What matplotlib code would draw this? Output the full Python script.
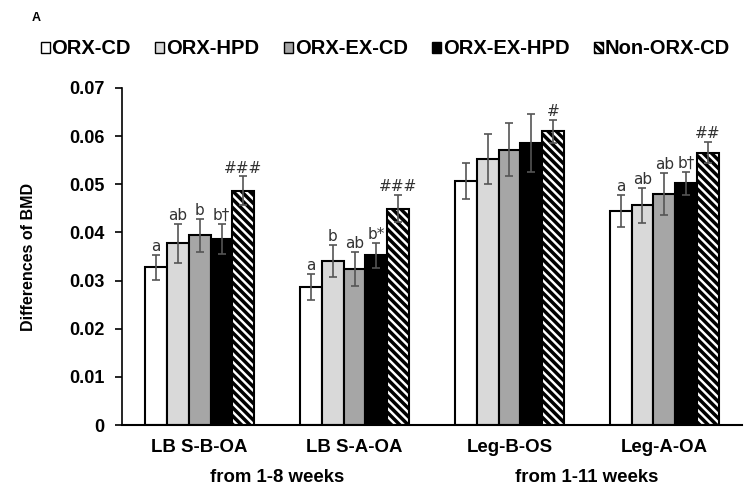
import numpy as np
import matplotlib.pyplot as plt
import matplotlib.transforms as mtransforms
from matplotlib.patches import Patch

plt.rcParams['font.family'] = ['Liberation Sans', 'DejaVu Sans']
plt.rcParams['hatch.linewidth'] = 2.5

# datos
categorias = ['LB S-B-OA', 'LB S-A-OA', 'Leg-B-OS', 'Leg-A-OA']
periodos = ['from 1-8 weeks', 'from 1-11 weeks']
grupos = ['ORX-CD', 'ORX-HPD', 'ORX-EX-CD', 'ORX-EX-HPD', 'Non-ORX-CD']

medias = np.array([
    [0.0328, 0.0286, 0.0506, 0.0444],   # ORX-CD
    [0.0377, 0.0340, 0.0552, 0.0456],   # ORX-HPD
    [0.0394, 0.0324, 0.0572, 0.0480],   # ORX-EX-CD
    [0.0386, 0.0352, 0.0586, 0.0502],   # ORX-EX-HPD
    [0.0486, 0.0449, 0.0610, 0.0565],   # Non-ORX-CD
])
errores = np.array([
    [0.0026, 0.0027, 0.0037, 0.0033],
    [0.0040, 0.0033, 0.0052, 0.0037],
    [0.0034, 0.0035, 0.0054, 0.0044],
    [0.0031, 0.0025, 0.0060, 0.0024],
    [0.0030, 0.0028, 0.0024, 0.0022],
])
letras = [
    ['a', 'a', '', 'a'],
    ['ab', 'b', '', 'ab'],
    ['b', 'ab', '', 'ab'],
    ['b\u2020', 'b*', '', 'b\u2020'],
    ['###', '###', '#', '##'],
]

colores = ['white', '#d9d9d9', '#a6a6a6', 'black', 'white']
tramas = [None, None, None, None, '\\\\\\\\']

fig = plt.figure(figsize=(7.5, 4.88), dpi=100)
ax = fig.add_axes([0.163, 0.129, 0.826, 0.691])

x = np.arange(len(categorias))
ancho = 0.141
for i in range(len(grupos)):
    pos = x - 2 * ancho + i * ancho
    ax.bar(pos, medias[i], ancho, color=colores[i], edgecolor='black',
           linewidth=1.5, hatch=tramas[i], label=grupos[i], zorder=2)
    ax.errorbar(pos, medias[i], yerr=errores[i], fmt='none', ecolor='#555555',
                elinewidth=1.2, capsize=3, capthick=1.2, zorder=3)
    for j in range(len(categorias)):
        if letras[i][j]:
            ax.text(pos[j], medias[i][j] + errores[i][j] + 0.0002, letras[i][j],
                    ha='center', va='bottom', fontsize=11, color='#333333',
                    family='DejaVu Sans')

ax.set_xlim(-0.5, 3.5)
ax.set_ylim(0, 0.07)
ax.set_yticks(np.arange(0, 0.071, 0.01))
ax.set_yticklabels(['0'] + ['%.2f' % v for v in np.arange(0.01, 0.071, 0.01)],
                   fontweight='bold', fontsize=13)
ax.set_xticks(x)
ax.set_xticklabels(categorias, fontsize=13.4, fontweight='bold')
ax.tick_params(axis='x', length=0, pad=10)
ax.tick_params(axis='y', direction='out', length=5, width=1.2, pad=8)
ax.spines['top'].set_visible(False)
ax.spines['right'].set_visible(False)
ax.spines['left'].set_linewidth(1.2)
ax.spines['bottom'].set_linewidth(1.5)
ax.set_ylabel('Differences of BMD', fontsize=11.5, fontweight='bold')
ax.yaxis.set_label_coords(-0.139, 0.5)

# rotulos de periodo, centrados entre cada par de categorias
trans = mtransforms.blended_transform_factory(ax.transData, fig.transFigure)
ax.text(0.5, 0.021, periodos[0], transform=trans, ha='center', va='center',
        fontsize=13.4, fontweight='bold')
ax.text(2.5, 0.021, periodos[1], transform=trans, ha='center', va='center',
        fontsize=13.4, fontweight='bold')
fig.text(0.048, 0.963, 'A', ha='center', va='center', fontsize=9, fontweight='bold')

handles = [Patch(facecolor=colores[i], edgecolor='black', hatch=tramas[i],
                 linewidth=1.0) for i in range(len(grupos))]
fig.legend(handles, grupos, loc='center left', bbox_to_anchor=(0.054, 0.90),
           ncol=5, frameon=False, handlelength=0.45, handleheight=0.45,
           handletextpad=0.1, columnspacing=1.2, borderpad=0, borderaxespad=0,
           prop={'weight': 'bold', 'size': 14.5})

fig.savefig('out.png', dpi=100)
